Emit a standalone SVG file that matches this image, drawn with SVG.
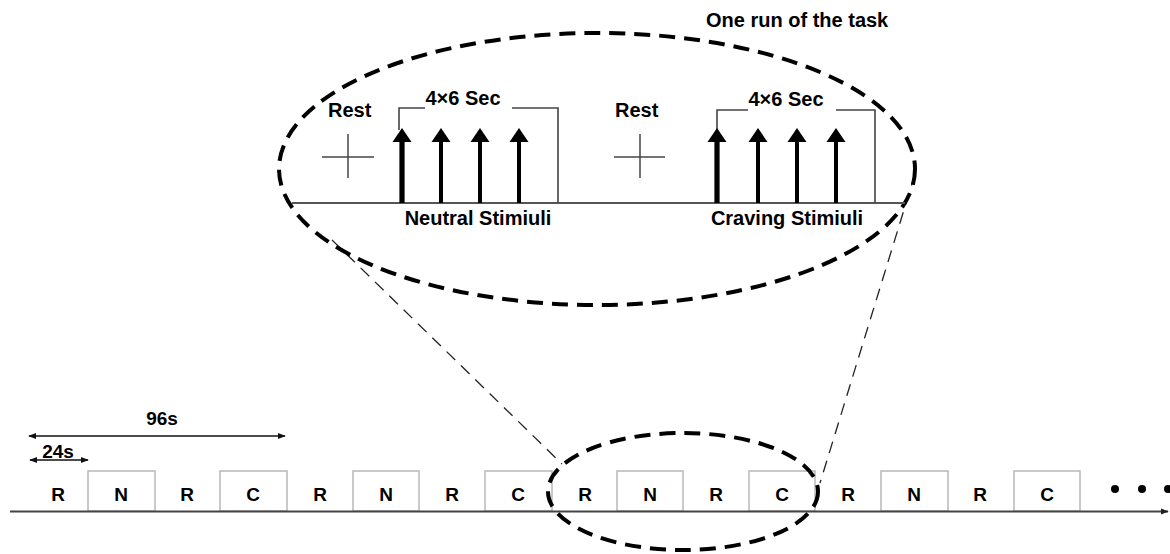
<svg xmlns="http://www.w3.org/2000/svg" xmlns:xlink="http://www.w3.org/1999/xlink" width="1170" height="554" viewBox="0 0 1170 554">
<style>
text{font-family:"Liberation Sans",Arial,sans-serif;font-weight:bold;fill:#000}
.t20{font-size:20px}
.lt{font-size:19px;text-anchor:middle}
.box{fill:#fff;stroke:#b8b8b8;stroke-width:1.5}
.ell{fill:none;stroke:#000;stroke-width:4;stroke-dasharray:16 9}
.conn{fill:none;stroke:#222;stroke-width:1.3;stroke-dasharray:12 8}
.br{fill:none;stroke:#444;stroke-width:1.6}
.dim{stroke:#111;stroke-width:1.6;marker-start:url(#ah);marker-end:url(#ah)}
</style>
<defs>
<marker id="ah" viewBox="0 0 10 10" refX="9" refY="5" markerWidth="5" markerHeight="5" orient="auto-start-reverse" markerUnits="strokeWidth">
<path d="M0,1 L10,5 L0,9 z" fill="#111"/>
</marker>
<marker id="ax" viewBox="0 0 10 10" refX="9" refY="5" markerWidth="4" markerHeight="4" orient="auto" markerUnits="strokeWidth">
<path d="M0,1 L10,5 L0,9 z" fill="#222"/>
</marker>
<g id="stim"><rect x="-2" y="12" width="4" height="63" fill="#000"/><polygon points="-9.5,14 9.5,14 0,0" fill="#000"/></g>
<g id="stim1"><rect x="-2.6" y="12" width="5.2" height="63" fill="#000"/><polygon points="-9.5,14 9.5,14 0,0" fill="#000"/></g>
</defs>
<rect width="1170" height="554" fill="#fff"/>

<g id="connectors">
<line class="conn" x1="332" y1="240" x2="562" y2="464"/>
<line class="conn" x1="915" y1="174" x2="820" y2="483"/>
</g>

<g id="run-detail">
<ellipse class="ell" cx="597" cy="169" rx="318" ry="136"/>
<line x1="292" y1="203" x2="905" y2="203" stroke="#555" stroke-width="2"/>
<text class="t20" x="706" y="27">One run of the task</text>
</g>

<g id="rest1">
<text class="t20" x="328" y="117">Rest</text>
<line x1="322" y1="157" x2="374" y2="157" stroke="#444" stroke-width="1.5"/>
<line x1="348" y1="134" x2="348" y2="178" stroke="#444" stroke-width="1.5"/>
</g>

<g id="neutral">
<path class="br" d="M399,130 V108 H558 V203"/>
<rect x="425" y="92" width="87" height="20" fill="#fff"/>
<text class="t20" x="463" y="105" text-anchor="middle">4×6 Sec</text>
<use xlink:href="#stim1" x="402" y="128"/>
<use xlink:href="#stim" x="441" y="128"/>
<use xlink:href="#stim" x="480" y="128"/>
<use xlink:href="#stim" x="519" y="128"/>
<text class="t20" x="478" y="225" text-anchor="middle">Neutral Stimiuli</text>
</g>

<g id="rest2">
<text class="t20" x="615" y="117">Rest</text>
<line x1="614" y1="157" x2="665" y2="157" stroke="#444" stroke-width="1.5"/>
<line x1="640" y1="134" x2="640" y2="178" stroke="#444" stroke-width="1.5"/>
</g>

<g id="craving">
<path class="br" d="M717,130 V110 H875 V203"/>
<rect x="748" y="94" width="88" height="20" fill="#fff"/>
<text class="t20" x="786" y="106" text-anchor="middle">4×6 Sec</text>
<use xlink:href="#stim1" x="717" y="128"/>
<use xlink:href="#stim" x="758" y="128"/>
<use xlink:href="#stim" x="797" y="128"/>
<use xlink:href="#stim" x="836" y="128"/>
<text class="t20" x="787" y="225" text-anchor="middle">Craving Stimiuli</text>
</g>

<g id="dimensions">
<line class="dim" x1="29" y1="436" x2="285" y2="436"/>
<text class="lt" x="162" y="425">96s</text>
<line class="dim" x1="30" y1="460" x2="88" y2="460"/>
<text class="lt" x="58" y="458">24s</text>
</g>

<g id="timeline">
<g id="b1"><text class="lt" x="58" y="501">R</text></g>
<g id="b2"><rect class="box" x="88" y="471" width="67" height="40"/><text class="lt" x="121" y="501">N</text></g>
<g id="b3"><text class="lt" x="187" y="501">R</text></g>
<g id="b4"><rect class="box" x="220" y="471" width="67" height="40"/><text class="lt" x="253" y="501">C</text></g>
<g id="b5"><text class="lt" x="320" y="501">R</text></g>
<g id="b6"><rect class="box" x="353" y="471" width="66" height="40"/><text class="lt" x="386" y="501">N</text></g>
<g id="b7"><text class="lt" x="452" y="501">R</text></g>
<g id="b8"><rect class="box" x="485" y="471" width="67" height="40"/><text class="lt" x="518" y="501">C</text></g>
<g id="b9"><text class="lt" x="585" y="501">R</text></g>
<g id="b10"><rect class="box" x="617" y="471" width="66" height="40"/><text class="lt" x="650" y="501">N</text></g>
<g id="b11"><text class="lt" x="716" y="501">R</text></g>
<g id="b12"><rect class="box" x="749" y="471" width="66" height="40"/><text class="lt" x="782" y="501">C</text></g>
<g id="b13"><text class="lt" x="848" y="501">R</text></g>
<g id="b14"><rect class="box" x="881" y="471" width="67" height="40"/><text class="lt" x="914" y="501">N</text></g>
<g id="b15"><text class="lt" x="980" y="501">R</text></g>
<g id="b16"><rect class="box" x="1014" y="471" width="66" height="40"/><text class="lt" x="1047" y="501">C</text></g>
<line x1="10" y1="511.5" x2="1168" y2="511.5" stroke="#444" stroke-width="2" marker-end="url(#ax)"/>
<circle cx="1115" cy="489" r="4" fill="#000"/>
<circle cx="1142" cy="489" r="4" fill="#000"/>
<circle cx="1168" cy="489" r="4" fill="#000"/>
</g>

<g id="selection">
<ellipse class="ell" cx="683" cy="491.5" rx="135" ry="58.5" stroke-dasharray="14 8"/>
</g>
</svg>
